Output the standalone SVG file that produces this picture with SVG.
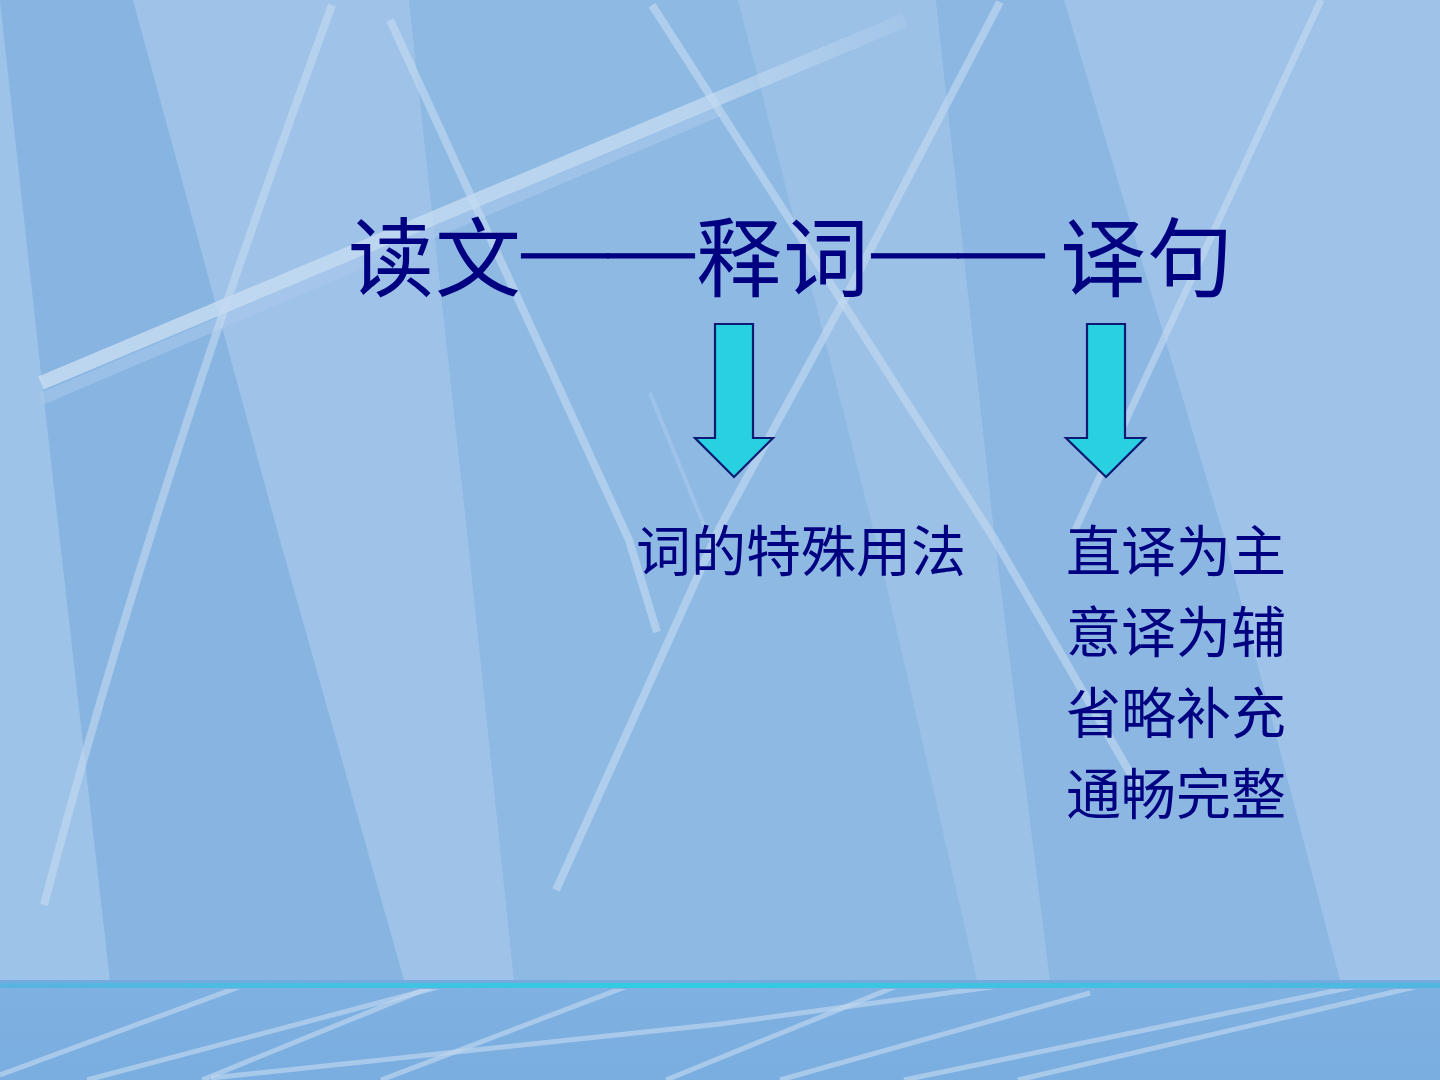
<svg xmlns="http://www.w3.org/2000/svg" width="1440" height="1080" viewBox="0 0 1440 1080">
  <defs>
    <style>
      .cjk { font-family: "Noto Sans CJK SC", "Noto Sans CJK TC", sans-serif; fill: #000080; }
      .title { font-size: 86px; }
      .dash { font-family: "Liberation Serif", "Noto Sans CJK SC", serif; stroke: #000080; stroke-width: 1; }
      .sub { font-size: 55px; }
      .streak { fill: none; stroke: #c4dbf2; stroke-linecap: butt; stroke-linejoin: round; opacity: 0.6; }
      .bstreak { fill: none; stroke: #c0d7ef; stroke-linecap: butt; opacity: 0.65; }
      .arrow { fill: #29d0e2; stroke: #0b1a72; stroke-width: 2.2; stroke-linejoin: miter; }
    </style>
    <linearGradient id="cyanLine" x1="0" y1="0" x2="1" y2="0">
      <stop offset="0" stop-color="#5ab3e0"/>
      <stop offset="0.45" stop-color="#2fcde2"/>
      <stop offset="1" stop-color="#52b6e0"/>
    </linearGradient>
    <linearGradient id="bottomFill" x1="0" y1="0" x2="0" y2="1">
      <stop offset="0" stop-color="#7fb1e1"/>
      <stop offset="1" stop-color="#7aaee0"/>
    </linearGradient>
    <linearGradient id="stripeFade" gradientUnits="userSpaceOnUse" x1="41" y1="383" x2="905" y2="20">
      <stop offset="0" stop-color="#c6dcf2" stop-opacity="0.85"/>
      <stop offset="0.75" stop-color="#c6dcf2" stop-opacity="0.75"/>
      <stop offset="1" stop-color="#c6dcf2" stop-opacity="0.15"/>
    </linearGradient>
    <clipPath id="bottomClip"><rect x="0" y="989" width="1440" height="91"/></clipPath>
  </defs>

  <g id="background">
    <rect x="0" y="0" width="1440" height="1080" fill="#90bae4"/>
    <polygon points="0,0 41,372 60,540 110,980 0,980" fill="#9ec3e8"/>
    <polygon points="0,0 133,0 280,540 404,980 110,980 60,540 41,372" fill="#88b4e1"/>
    <polygon points="133,0 409,0 468,540 514,980 404,980 280,540" fill="#9fc3e8"/>
    <polygon points="409,0 738,0 876,540 977,980 514,980 468,540" fill="#8eb9e3"/>
    <polygon points="738,0 936,0 995,540 1050,980 977,980 876,540" fill="#9cc1e7"/>
    <polygon points="936,0 1064,0 1225,540 1340,980 1050,980 995,540" fill="#8cb7e2"/>
    <polygon points="1064,0 1440,0 1440,980 1340,980 1225,540" fill="#9fc3e8"/>

    <!-- light streaks -->
    <line x1="41" y1="399" x2="720" y2="110" stroke="#a9c9ec" stroke-width="12" opacity="0.6"/>
    <line x1="41" y1="383" x2="905" y2="20" stroke="url(#stripeFade)" stroke-width="14"/>
    <path class="streak" d="M332,5 Q150,500 44,905" stroke-width="8"/>
    <polyline class="streak" points="390,20 629,540 657,632" stroke-width="8"/>
    <polyline class="streak" points="652,5 995,540 1140,790" stroke-width="8"/>
    <polyline class="streak" points="1000,2 844,300 720,527 556,890" stroke-width="8"/>
    <line class="streak" x1="1321" y1="0" x2="1075" y2="530" stroke-width="7"/>
    <line x1="650" y1="393" x2="710" y2="540" stroke="#b0cdee" stroke-width="4" opacity="0.5"/>

    <!-- bottom band -->
    <rect x="0" y="980" width="1440" height="100" fill="url(#bottomFill)"/>
    <rect x="0" y="980" width="1440" height="3" fill="#74aade"/>
    <rect x="0" y="983" width="1440" height="5" fill="url(#cyanLine)"/>
    <g clip-path="url(#bottomClip)">
      <line class="bstreak" x1="0" y1="1075" x2="266" y2="977" stroke-width="5"/>
      <line class="bstreak" x1="87" y1="1080" x2="457" y2="982" stroke-width="5"/>
      <line class="bstreak" x1="202" y1="1080" x2="443" y2="982" stroke-width="5"/>
      <polyline class="bstreak" points="211,1078 720,1024 1028,982" stroke-width="5"/>
      <line class="bstreak" x1="381" y1="1080" x2="638" y2="982" stroke-width="5"/>
      <line class="bstreak" x1="666" y1="1080" x2="904" y2="983" stroke-width="5"/>
      <line class="bstreak" x1="780" y1="1080" x2="1090" y2="993" stroke-width="5"/>
      <line class="bstreak" x1="904" y1="1080" x2="1377" y2="982" stroke-width="5"/>
      <line class="bstreak" x1="1018" y1="1080" x2="1436" y2="982" stroke-width="5"/>
    </g>
  </g>

  <g id="node-title">
    <text class="cjk title" y="290"><tspan x="348">读</tspan><tspan x="435">文</tspan><tspan class="dash" x="522" y="276">——</tspan><tspan x="696" y="290">释</tspan><tspan x="783">词</tspan><tspan class="dash" x="872" y="276">——</tspan><tspan x="1046" y="290"> </tspan><tspan x="1060">译</tspan><tspan x="1147">句</tspan></text>
  </g>

  <g id="node-usage">
    <text class="cjk sub" x="636" y="571">词的特殊用法</text>
  </g>

  <g id="node-translation">
    <text class="cjk sub" x="1066" y="571">直译为主</text>
    <text class="cjk sub" x="1066" y="652">意译为辅</text>
    <text class="cjk sub" x="1066" y="733">省略补充</text>
    <text class="cjk sub" x="1066" y="814">通畅完整</text>
  </g>

  <g id="connectors">
    <polygon class="arrow" points="715,324 753,324 753,438 773,438 734,477 695,438 715,438"/>
    <polygon class="arrow" points="1087,324 1125,324 1125,438 1145,438 1106,477 1066,438 1087,438"/>
  </g>
</svg>
